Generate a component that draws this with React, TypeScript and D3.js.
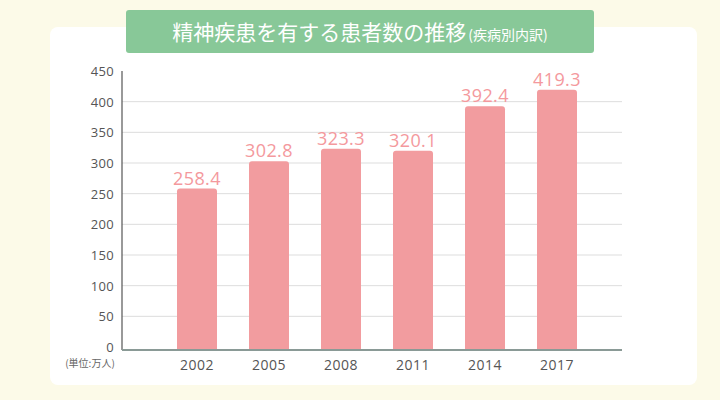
import React from "react";
import * as d3 from "d3";

const years = ["2002", "2005", "2008", "2011", "2014", "2017"];
const patients = [258.4, 302.8, 323.3, 320.1, 392.4, 419.3];
const yTicks = [0, 50, 100, 150, 200, 250, 300, 350, 400, 450];
const titleMain = "精神疾患を有する患者数の推移";
const titleSub = "(疾病別内訳)";
const unitLabel = "(単位:万人)";

export default function App() {
  const W = 720, H = 400;
  const x0 = 122, x1 = 622;
  const y = d3.scaleLinear().domain([0, 450]).range([347, 71]);
  const x = d3.scaleBand<string>().domain(years).range([161, 593]).paddingInner(0.444).paddingOuter(0.222);
  const bw = 40;
  const r = 3;
  const font = "'Open Sans', 'Noto Sans', sans-serif";
  const baseY = 350;
  const barPath = (cx: number, top: number, bottom: number) => {
    const l = cx - bw / 2, rr = cx + bw / 2;
    return `M${l},${bottom}V${top + r}Q${l},${top} ${l + r},${top}H${rr - r}Q${rr},${top} ${rr},${top + r}V${bottom}Z`;
  };
  return (
    <svg width={W} height={H} style={{ position: "absolute", left: 0, top: 0, display: "block" }}>
      <rect x={0} y={0} width={W} height={H} fill="#fcfae8" />
      <rect x={50} y={27} width={647} height={358} rx={8} fill="#ffffff" />
      <rect x={126} y={10} width={468} height={43} rx={3} fill="#88c898" />
      <text x={360} y={40} textAnchor="middle" fill="#ffffff" fontFamily="'Noto Sans CJK JP', sans-serif">
        <tspan fontSize={21}>{titleMain}</tspan>
        <tspan fontSize={14} dx={2}>{titleSub}</tspan>
      </text>
      {yTicks.map((t) => (
        <g key={t}>
          {t > 0 && t < 450 && (
            <line x1={x0} x2={x1} y1={y(t)} y2={y(t)} stroke="#dddddd" strokeWidth={1} />
          )}
          <text x={114} y={y(t)} textAnchor="end" dominantBaseline="central" fontSize={13} letterSpacing={0.3} fill="#555555" fontFamily={font}>
            {t}
          </text>
        </g>
      ))}
      {years.map((yr, i) => {
        const cx = (x(yr) ?? 0) + x.bandwidth() / 2;
        return (
          <g key={yr}>
            <path d={barPath(cx, y(patients[i]), baseY)} fill="#f29c9f" />
            <text x={cx} y={y(patients[i]) - 4} textAnchor="middle" fontSize={18} letterSpacing={0.4} fill="#f4999d" fontFamily={font}>
              {patients[i].toFixed(1)}
            </text>
            <text x={cx} y={370} textAnchor="middle" fontSize={14} letterSpacing={0.5} fill="#555555" fontFamily={font}>
              {yr}
            </text>
          </g>
        );
      })}
      <line x1={x0} x2={x0} y1={71} y2={baseY} stroke="#555555" strokeWidth={1.2} />
      <line x1={x0} x2={x1} y1={baseY} y2={baseY} stroke="#8a9a96" strokeWidth={2} />
      <text x={90} y={367} textAnchor="middle" fontSize={10} fill="#666666" fontFamily="'Noto Sans CJK JP', sans-serif">
        {unitLabel}
      </text>
    </svg>
  );
}
